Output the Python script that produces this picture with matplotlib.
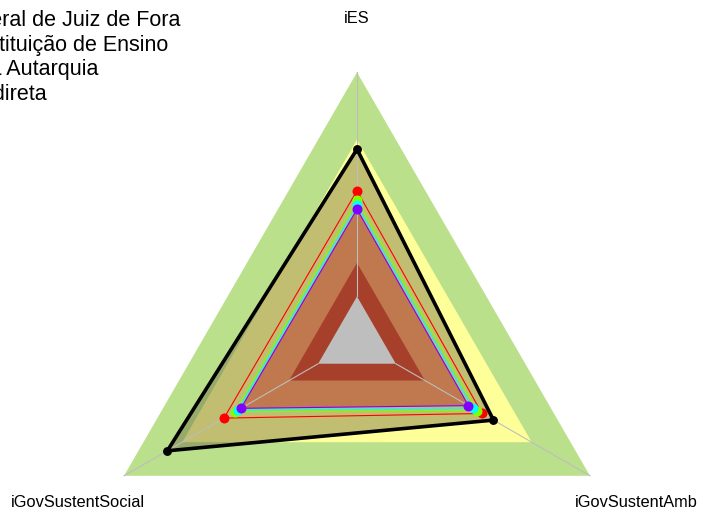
import numpy as np
import matplotlib
matplotlib.use("Agg")
import matplotlib.pyplot as plt

plt.rcParams['font.family'] = ['Liberation Sans', 'DejaVu Sans']

# ---- data ----
axes_labels = ["iES", "iGovSustentSocial", "iGovSustentAmb"]
ufjf = [0.657, 0.777, 0.503]
serie_red = [0.472, 0.485, 0.444]
serie_green = [0.429, 0.429, 0.418]
serie_cyan = [0.407, 0.414, 0.396]
serie_purple = [0.389, 0.398, 0.374]
band_levels = [1.0, 0.7, 0.15, 0.0]
band_colors = ["#BBE08C", "#FFFF99", "#A6402A", "#BEBEBE"]
legend_labels = ["Universidade Federal de Juiz de Fora",
                 "Média Instituição de Ensino",
                 "Média Autarquia",
                 "Administração Indireta"]

series = [serie_red, serie_green, serie_cyan, serie_purple]
series_colors = ["#FF0000", "#80FF00", "#00FFFF", "#8000FF"]

W, H, DPI = 701, 513, 100
fig = plt.figure(figsize=(W / DPI, H / DPI), dpi=DPI)
ax = fig.add_axes([0, 0, 1, 1])
R = 269.0
cx, cy = 357.0, 341.3
ax.set_xlim(-cx / R, (W - cx) / R)
ax.set_ylim(-(H - cy) / R, cy / R)
ax.set_aspect('equal')
ax.axis('off')

n = len(axes_labels)
theta = np.deg2rad(90 + 360.0 * np.arange(n) / n)
r0 = 1.0 / 6.0


def xy(vals):
    r = r0 + np.asarray(vals) * (1 - r0)
    x = r * np.cos(theta)
    y = r * np.sin(theta)
    return np.append(x, x[0]), np.append(y, y[0])


# background bands (outer two)
for lev, col in zip(band_levels[:2], band_colors[:2]):
    x, y = xy([lev] * n)
    ax.fill(x, y, color=col, lw=0, zorder=1)

# UFJF fill (translucent)
x, y = xy(ufjf)
ax.fill(x, y, color=(87 / 255, 79 / 255, 47 / 255), alpha=0.37, lw=0, zorder=2)
# innermost series fill
x, y = xy(serie_purple)
ax.fill(x, y, color="#C0784E", lw=0, zorder=3)

# inner bands
for lev, col in zip(band_levels[2:], band_colors[2:]):
    x, y = xy([lev] * n)
    ax.fill(x, y, color=col, lw=0, zorder=4)

# axis lines
for t in theta:
    ax.plot([r0 * np.cos(t), np.cos(t)], [r0 * np.sin(t), np.sin(t)],
            color="#BDBDBD", lw=0.8, zorder=5)

# series
for vals, col in zip(series, series_colors):
    x, y = xy(vals)
    ax.plot(x, y, color=col, lw=0.8, zorder=6)
    ax.plot(x[:-1], y[:-1], 'o', color=col, ms=7.2, mec='none', zorder=7)

x, y = xy(ufjf)
ax.plot(x, y, color="black", lw=2.6, zorder=8)
ax.plot(x[:-1], y[:-1], 'o', color="black", ms=6.4, mec='none', zorder=9)

# axis labels
for t, lab in zip(theta, axes_labels):
    ax.text(1.2 * np.cos(t), 1.2 * np.sin(t), lab, ha='center', va='center',
            fontsize=11.8, color='black', zorder=10)

# legend text (cut at the left edge, as in the reference)
leg_right = [180, 168, 98, 47]
leg_base = [26, 51, 75.5, 100]
for lab, xr, yb in zip(legend_labels, leg_right, leg_base):
    fig.text(xr / W, 1 - yb / H, lab, ha='right', va='baseline',
             fontsize=15.5, color='black')

fig.savefig("out.png", dpi=DPI)
